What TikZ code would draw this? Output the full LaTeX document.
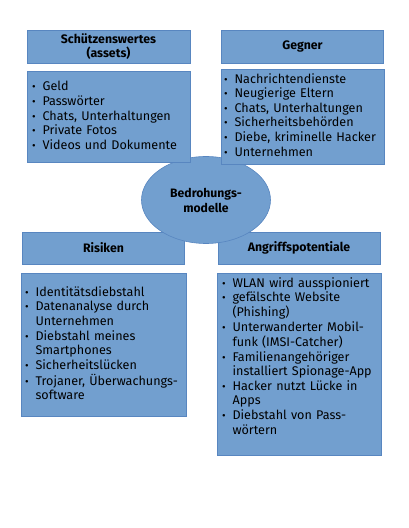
\documentclass[tikz,border=0pt]{standalone}
\usepackage{fontspec}
\setmainfont{Fira Sans}
\usepackage{xcolor}
\usetikzlibrary{shapes,positioning}
\definecolor{boxBlue}{RGB}{114,159,207}
\definecolor{boxEdge}{RGB}{88,134,192}
\newcommand{\bulletlist}[1]{\begin{tabular}{@{}l@{\hspace{7pt}}l@{}}#1\end{tabular}}
\newcommand{\bp}{\fontsize{11}{11}\selectfont\textbullet}

\begin{document}
\begin{tikzpicture}[
    x=1pt, y=1pt,
    node distance=8pt,
    head/.style={rectangle, draw=boxEdge, fill=boxBlue, line width=0.6pt, minimum width=162pt, minimum height=33pt, align=center, font=\fontsize{12.3}{14}\selectfont\bfseries},
    list/.style={rectangle, draw=boxEdge, fill=boxBlue, line width=0.6pt, minimum width=164pt, font=\fontsize{12.6}{14.6}\selectfont},
    model/.style={ellipse, draw=boxEdge, fill=boxBlue, line width=0.6pt, minimum width=129pt, minimum height=87pt, inner sep=0pt, align=center, font=\fontsize{12.2}{15}\selectfont\bfseries}
]
    \useasboundingbox (0,0) rectangle (408,528);

    % Lower headers
    \node[head, minimum height=32pt] (risiken) at (103.5,280) {Risiken};
    \node[head, minimum height=32pt] (angriff) at (299,280) {Angriffspotentiale};

    % Center
    \node[model] (modell) at (206,328) {Bedrohungs-\\modelle};

    % Upper headers
    \node[head, minimum width=163pt] (assets) at (108.5,481.5) {Schützenswertes\\(assets)};
    \node[head] (gegner) at (302.5,481.5) {Gegner};

    % Upper lists
    \node[list, minimum width=163pt, minimum height=91pt, below=of assets, inner xsep=5pt, text width=153pt] (assetlist) {\bulletlist{
        \bp & Geld\\
        \bp & Passwörter\\
        \bp & Chats, Unterhaltungen\\
        \bp & Private Fotos\\
        \bp & Videos und Dokumente}};
    \node[list, minimum width=163pt, minimum height=89pt, below=6pt of gegner, inner xsep=3pt, text width=157pt] (gegnerlist) {\bulletlist{
        \bp & Nachrichtendienste\\
        \bp & Neugierige Eltern\\
        \bp & Chats, Unterhaltungen\\
        \bp & Sicherheitsbehörden\\
        \bp & Diebe, kriminelle Hacker\\
        \bp & Unternehmen}};

    % Lower lists
    \node[list, minimum width=165pt, minimum height=143pt, below=9pt of risiken, inner xsep=4pt, text width=157pt] (risikenlist) {\bulletlist{
        \bp & Identitätsdiebstahl\\
        \bp & Datenanalyse durch\\
            & Unternehmen\\
        \bp & Diebstahl meines\\
            & Smartphones\\
        \bp & Sicherheitslücken\\
        \bp & Trojaner, Überwachungs-\\
            & software}};
    \node[list, minimum height=177pt, below=9pt of angriff, inner xsep=5pt, text width=154pt] (angrifflist) {\bulletlist{
        \bp & WLAN wird ausspioniert\\
        \bp & gefälschte Website\\
            & (Phishing)\\
        \bp & Unterwanderter Mobil-\\
            & funk (IMSI-Catcher)\\
        \bp & Familienangehöriger\\
            & installiert Spionage-App\\
        \bp & Hacker nutzt Lücke in\\
            & Apps\\
        \bp & Diebstahl von Pass-\\
            & wörtern\\[14pt]}};
\end{tikzpicture}
\end{document}
